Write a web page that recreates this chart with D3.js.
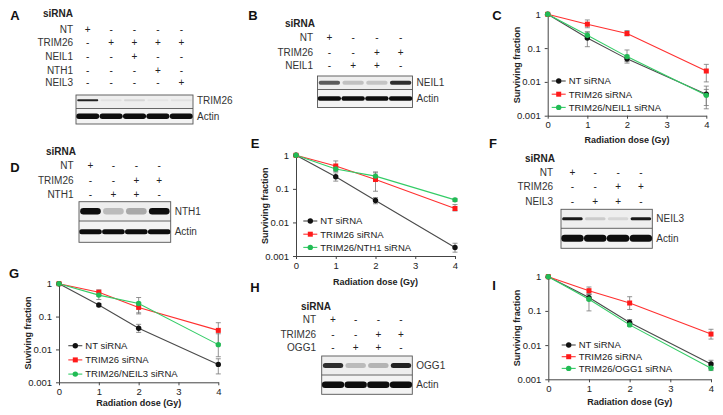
<!DOCTYPE html>
<html>
<head>
<meta charset="utf-8">
<script src="https://cdn.jsdelivr.net/npm/d3@7"></script>
<style>
  body { margin: 0; background: #fff; }
  svg { display: block; font-family: "Liberation Sans", Arial, sans-serif; }
</style>
</head>
<body>
<svg id="fig" width="723" height="415"></svg>
<script>
// ---------- clonogenic survival data ----------
const doses = [0, 1, 2, 4];
const xTicks = [0, 1, 2, 3, 4];
const yTicks = [1, 0.1, 0.01, 0.001];

// panel C : NEIL1
const cNT = [1, 0.2, 0.048, 0.0043];
const cNTLo = [1, 0.11, 0.036, 0.0016];
const cNTHi = [1, 0.3, 0.062, 0.0075];
const cTRIM = [1, 0.51, 0.27, 0.021];
const cTRIMLo = [1, 0.4, 0.23, 0.01];
const cTRIMHi = [1, 0.68, 0.33, 0.033];
const cKD = [1, 0.24, 0.056, 0.004];
const cKDLo = [1, 0.19, 0.04, 0.002];
const cKDHi = [1, 0.3, 0.088, 0.006];

// panel E : NTH1
const eNT = [1, 0.23, 0.045, 0.0018];
const eNTLo = [1, 0.17, 0.036, 0.0013];
const eNTHi = [1, 0.3, 0.055, 0.0024];
const eTRIM = [1, 0.48, 0.19, 0.026];
const eTRIMLo = [1, 0.35, 0.085, 0.022];
const eTRIMHi = [1, 0.68, 0.3, 0.034];
const eKD = [1, 0.39, 0.24, 0.047];
const eKDLo = [1, 0.33, 0.17, 0.042];
const eKDHi = [1, 0.45, 0.32, 0.052];

// panel G : NEIL3
const gNT = [1, 0.225, 0.044, 0.0035];
const gNTLo = [1, 0.2, 0.033, 0.0018];
const gNTHi = [1, 0.25, 0.058, 0.0052];
const gTRIM = [1, 0.55, 0.19, 0.038];
const gTRIMLo = [1, 0.42, 0.12, 0.015];
const gTRIMHi = [1, 0.65, 0.27, 0.065];
const gKD = [1, 0.45, 0.25, 0.014];
const gKDLo = [1, 0.33, 0.13, 0.006];
const gKDHi = [1, 0.56, 0.38, 0.03];

// panel I : OGG1
const iNT = [1, 0.245, 0.046, 0.0028];
const iNTLo = [1, 0.2, 0.038, 0.0022];
const iNTHi = [1, 0.32, 0.056, 0.0036];
const iTRIM = [1, 0.39, 0.17, 0.021];
const iTRIMLo = [1, 0.3, 0.11, 0.015];
const iTRIMHi = [1, 0.5, 0.26, 0.029];
const iKD = [1, 0.22, 0.039, 0.0021];
const iKDLo = [1, 0.1, 0.035, 0.0018];
const iKDHi = [1, 0.3, 0.045, 0.0025];

// ---------- western blot data ----------
const aRows = ['NT', 'TRIM26', 'NEIL1', 'NTH1', 'NEIL3'];
const aSigns = [['+', '-', '-', '-', '-'], ['-', '+', '+', '+', '+'], ['-', '-', '+', '-', '-'],
                ['-', '-', '-', '+', '-'], ['-', '-', '-', '-', '+']];
const aBands = [0.9, 0.05, 0.1, 0.04, 0.05];
const aActin = [1, 1, 1, 1, 1];

const bRows = ['NT', 'TRIM26', 'NEIL1'];
const bSigns = [['+', '-', '-', '-'], ['-', '-', '+', '+'], ['-', '+', '+', '-']];
const bBands = [0.65, 0.2, 0.18, 0.85];
const bActin = [1, 1, 1, 1];

const dRows = ['NT', 'TRIM26', 'NTH1'];
const dSigns = [['+', '-', '-', '-'], ['-', '-', '+', '+'], ['-', '+', '+', '-']];
const dBands = [1, 0.22, 0.3, 1];
const dActin = [1, 1, 1, 1];

const fRows = ['NT', 'TRIM26', 'NEIL3'];
const fSigns = [['+', '-', '-', '-'], ['-', '-', '+', '+'], ['-', '+', '+', '-']];
const fBands = [0.95, 0.15, 0.1, 0.95];
const fActin = [1, 1, 1, 1];

const hRows = ['NT', 'TRIM26', 'OGG1'];
const hSigns = [['+', '-', '-', '-'], ['-', '-', '+', '+'], ['-', '+', '+', '-']];
const hBands = [0.85, 0.22, 0.25, 0.9];
const hActin = [1, 1, 1, 1];

const svg = d3.select('#fig');
const FONT = '"Liberation Sans", Arial, sans-serif';

svg.append('defs').append('filter').attr('id', 'blur')
  .attr('x', '-20%').attr('y', '-60%').attr('width', '140%').attr('height', '220%')
  .append('feGaussianBlur').attr('stdDeviation', 0.7);

function drawBlot(p) {
  const g = svg.append('g');
  const n = p.bands.length;
  const lane = d3.scaleBand().domain(d3.range(n)).range([p.x0, p.x1])
    .paddingInner(0.1).paddingOuter(0.05);

  g.append('text').attr('x', p.siX).attr('y', p.siY)
    .attr('font-size', 10).attr('font-weight', 'bold').attr('fill', '#222').text('siRNA');

  p.rows.forEach((r, i) => {
    g.append('text').attr('x', p.labelX).attr('y', p.rowY[i]).attr('dy', '0.35em')
      .attr('text-anchor', 'end').attr('font-size', 10).attr('fill', '#333').text(r);
    g.selectAll(null).data(p.signs[i]).enter().append('text')
      .attr('x', (d, j) => lane(j) + lane.bandwidth() / 2)
      .attr('y', p.rowY[i]).attr('dy', '0.35em').attr('text-anchor', 'middle')
      .attr('font-size', 10).attr('fill', '#222').text(d => d);
  });

  // membranes
  g.append('rect').attr('x', p.x0).attr('y', p.y0).attr('width', p.x1 - p.x0)
    .attr('height', p.y1 - p.y0).attr('fill', '#eeeeee');
  g.append('rect').attr('x', p.x0).attr('y', p.y1).attr('width', p.x1 - p.x0)
    .attr('height', p.y2 - p.y1).attr('fill', '#f3f3f3');

  const bandY = (p.y0 + p.y1) / 2 + (p.bandShift || 0);
  g.selectAll('.band').data(p.bands).enter().append('rect')
    .attr('x', (d, j) => lane(j)).attr('width', lane.bandwidth())
    .attr('y', bandY - p.bandH / 2).attr('height', p.bandH)
    .attr('rx', p.bandH / 2).attr('fill', '#0a0a0a')
    .attr('opacity', d => d).attr('filter', 'url(#blur)');

  const actY = (p.y1 + p.y2) / 2;
  g.selectAll('.actin').data(p.actin).enter().append('rect')
    .attr('x', (d, j) => lane(j) - 1).attr('width', lane.bandwidth() + 2)
    .attr('y', actY - p.actinH / 2).attr('height', p.actinH)
    .attr('rx', p.actinH / 2).attr('fill', '#0a0a0a')
    .attr('opacity', d => d).attr('filter', 'url(#blur)');

  g.append('rect').attr('x', p.x0).attr('y', p.y0).attr('width', p.x1 - p.x0)
    .attr('height', p.y2 - p.y0).attr('fill', 'none').attr('stroke', '#555').attr('stroke-width', 0.9);
  g.append('line').attr('x1', p.x0).attr('x2', p.x1).attr('y1', p.y1).attr('y2', p.y1)
    .attr('stroke', '#555').attr('stroke-width', 0.9);

  g.append('text').attr('x', p.x1 + 4).attr('y', bandY).attr('dy', '0.35em')
    .attr('font-size', 10).attr('fill', '#333').text(p.target);
  g.append('text').attr('x', p.x1 + 4).attr('y', actY).attr('dy', '0.35em')
    .attr('font-size', 10).attr('fill', '#333').text('Actin');
}

const black = { line: '#4a4a4a', mark: '#111', shape: 'circle' };
const red = { line: '#ff3030', mark: '#ff1a1a', shape: 'square' };
const green = { line: '#33cc66', mark: '#22bb55', shape: 'circle' };

function marker(sel, st) {
  if (st.shape === 'square') {
    sel.append('rect').attr('x', -2.5).attr('y', -2.5).attr('width', 5).attr('height', 5).attr('fill', st.mark);
  } else {
    sel.append('circle').attr('r', 2.7).attr('fill', st.mark);
  }
}

function drawSurvival(p) {
  const g = svg.append('g');
  const x = d3.scaleLinear().domain([0, 4]).range([p.left, p.right]);
  const y = d3.scaleLog().domain([0.001, 1]).range([p.bottom, p.top]);

  const ax = g.append('g').attr('transform', `translate(0,${p.bottom})`)
    .call(d3.axisBottom(x).tickValues(xTicks).tickSize(3).tickSizeOuter(0).tickPadding(3).tickFormat(d3.format('d')));
  const ay = g.append('g').attr('transform', `translate(${p.left},0)`)
    .call(d3.axisLeft(y).tickValues(yTicks).tickSize(3).tickSizeOuter(0).tickPadding(4).tickFormat(d => String(d)));
  [ax, ay].forEach(a => {
    a.attr('font-family', FONT).attr('font-size', 9.5);
    a.selectAll('path, line').attr('stroke', '#444');
    a.selectAll('text').attr('fill', '#222');
  });

  const line = d3.line().x((d, i) => x(doses[i])).y(d => y(d));

  p.series.forEach(s => {
    const eg = g.append('g');
    doses.forEach((d, i) => {
      if (i === 0) return;
      const cx = x(d);
      eg.append('line').attr('x1', cx).attr('x2', cx).attr('y1', y(s.lo[i])).attr('y2', y(s.hi[i]));
      [s.lo[i], s.hi[i]].forEach(v => {
        eg.append('line').attr('x1', cx - 2.5).attr('x2', cx + 2.5).attr('y1', y(v)).attr('y2', y(v));
      });
    });
    eg.attr('stroke', '#777').attr('stroke-width', 0.8);
  });

  p.series.forEach(s => {
    g.append('path').datum(s.values).attr('d', line)
      .attr('fill', 'none').attr('stroke', s.style.line).attr('stroke-width', 1.1);
    s.values.forEach((v, i) => {
      marker(g.append('g').attr('transform', `translate(${x(doses[i])},${y(v)})`), s.style);
    });
  });

  // legend
  p.series.forEach((s, i) => {
    const ly = p.legY + i * p.legDy;
    g.append('line').attr('x1', p.legX).attr('x2', p.legX + 14).attr('y1', ly).attr('y2', ly)
      .attr('stroke', s.style.line).attr('stroke-width', 1.1);
    marker(g.append('g').attr('transform', `translate(${p.legX + 7},${ly})`), s.style);
    g.append('text').attr('x', p.legX + 17).attr('y', ly).attr('dy', '0.35em')
      .attr('font-size', 9.5).attr('fill', '#222').text(s.name);
  });

  g.append('text').attr('x', (p.left + p.right) / 2).attr('y', p.bottom + p.xTitleGap)
    .attr('dy', '0.35em').attr('text-anchor', 'middle').attr('font-size', 9).attr('font-weight', 'bold')
    .attr('fill', '#222').text('Radiation dose (Gy)');
  g.append('text')
    .attr('transform', `translate(${p.left - 31},${(p.top + p.bottom) / 2}) rotate(-90)`)
    .attr('dy', '0.35em').attr('text-anchor', 'middle').attr('font-size', 9).attr('font-weight', 'bold')
    .attr('fill', '#222').text(p.yTitle);
}

// ---------- blots ----------
drawBlot({ rows: aRows, signs: aSigns, bands: aBands, actin: aActin, target: 'TRIM26',
  x0: 76, x1: 193, y0: 95, y1: 108.5, y2: 124, rowY: [29.3, 42.7, 56, 70, 82.7], labelX: 73,
  siX: 43, siY: 17, bandH: 2, actinH: 5.5, bandShift: -1.5 });
drawBlot({ rows: bRows, signs: bSigns, bands: bBands, actin: bActin, target: 'NEIL1',
  x0: 317.5, x1: 412.5, y0: 76, y1: 89.5, y2: 107.5, rowY: [37.7, 52.3, 65.7], labelX: 313,
  siX: 285, siY: 27, bandH: 4, actinH: 4.5 });
drawBlot({ rows: dRows, signs: dSigns, bands: dBands, actin: dActin, target: 'NTH1',
  x0: 79, x1: 170.7, y0: 201.7, y1: 221, y2: 242.3, rowY: [165, 180.7, 194], labelX: 73.5,
  siX: 46, siY: 154.5, bandH: 6.5, actinH: 5 });
drawBlot({ rows: fRows, signs: fSigns, bands: fBands, actin: fActin, target: 'NEIL3',
  x0: 561, x1: 652.3, y0: 209.3, y1: 228.3, y2: 248.3, rowY: [172.7, 186.7, 201], labelX: 553,
  siX: 525, siY: 161.5, bandH: 3, actinH: 7 });
drawBlot({ rows: hRows, signs: hSigns, bands: hBands, actin: hActin, target: 'OGG1',
  x0: 321.7, x1: 412.3, y0: 356, y1: 375, y2: 394.3, rowY: [319.3, 334.3, 347.7], labelX: 316,
  siX: 301, siY: 310, bandH: 5, actinH: 6.5 });

// ---------- survival curves ----------
drawSurvival({ left: 547.7, right: 706.3, top: 14.3, bottom: 115.7, xTitleGap: 24.5,
  yTitle: 'Surviving fraction', legX: 551.7, legY: 81, legDy: 13.2,
  series: [
    { name: 'NT siRNA', values: cNT, lo: cNTLo, hi: cNTHi, style: black },
    { name: 'TRIM26 siRNA', values: cTRIM, lo: cTRIMLo, hi: cTRIMHi, style: red },
    { name: 'TRIM26/NEIL1 siRNA', values: cKD, lo: cKDLo, hi: cKDHi, style: green }] });
drawSurvival({ left: 296, right: 455, top: 155.3, bottom: 256, xTitleGap: 25.7,
  yTitle: 'Surviving fraction', legX: 303.3, legY: 221, legDy: 13.2,
  series: [
    { name: 'NT siRNA', values: eNT, lo: eNTLo, hi: eNTHi, style: black },
    { name: 'TRIM26 siRNA', values: eTRIM, lo: eTRIMLo, hi: eTRIMHi, style: red },
    { name: 'TRIM26/NTH1 siRNA', values: eKD, lo: eKDLo, hi: eKDHi, style: green }] });
drawSurvival({ left: 59, right: 218.3, top: 283.7, bottom: 382.3, xTitleGap: 20.4,
  yTitle: 'Suviving fraction', legX: 68.3, legY: 345.7, legDy: 14.2,
  series: [
    { name: 'NT siRNA', values: gNT, lo: gNTLo, hi: gNTHi, style: black },
    { name: 'TRIM26 siRNA', values: gTRIM, lo: gTRIMLo, hi: gTRIMHi, style: red },
    { name: 'TRIM26/NEIL3 siRNA', values: gKD, lo: gKDLo, hi: gKDHi, style: green }] });
drawSurvival({ left: 548.3, right: 711, top: 276.7, bottom: 379.3, xTitleGap: 22.4,
  yTitle: 'Surviving fraction', legX: 561.7, legY: 345, legDy: 11.7,
  series: [
    { name: 'NT siRNA', values: iNT, lo: iNTLo, hi: iNTHi, style: black },
    { name: 'TRIM26 siRNA', values: iTRIM, lo: iTRIMLo, hi: iTRIMHi, style: red },
    { name: 'TRIM26/OGG1 siRNA', values: iKD, lo: iKDLo, hi: iKDHi, style: green }] });

// ---------- panel letters ----------
const letters = [['A', 15, 15], ['B', 253, 15], ['C', 497, 15], ['D', 15, 167], ['E', 255, 143],
                 ['F', 493, 143], ['G', 14, 273], ['H', 255, 287], ['I', 494, 285]];
svg.selectAll('.letter').data(letters).enter().append('text')
  .attr('x', d => d[1]).attr('y', d => d[2]).attr('dy', '0.35em').attr('text-anchor', 'middle')
  .attr('font-size', 13).attr('font-weight', 'bold').attr('fill', '#111').text(d => d[0]);
</script>
</body>
</html>
